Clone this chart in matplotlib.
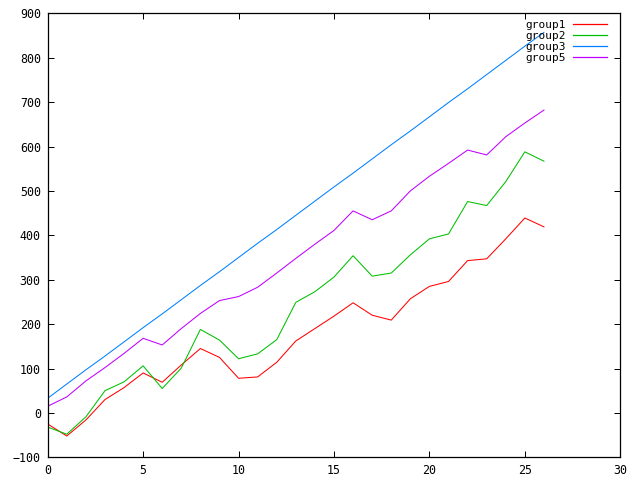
import matplotlib
matplotlib.use("Agg")
import matplotlib.pyplot as plt

x = list(range(27))
group1 = [-25, -52, -16, 30, 57, 90, 69, 108, 145, 125, 78, 81, 114, 162, 190, 218, 248,
          220, 209, 257, 285, 296, 343, 347, 392, 439, 419]
group2 = [-32, -48, -9, 50, 70, 106, 55, 101, 188, 164, 122, 133, 165, 249, 273, 306, 354,
          308, 315, 356, 392, 403, 476, 467, 521, 588, 567]
group3 = [33, 65, 97, 128, 160, 192, 223, 255, 287, 318, 350, 382, 413, 445, 477, 509,
          540, 572, 604, 635, 667, 699, 730, 762, 794, 826, 857]
group5 = [15, 36, 72, 102, 134, 168, 153, 190, 224, 253, 262, 283, 315, 348, 380, 411,
          455, 435, 455, 500, 533, 562, 592, 581, 622, 653, 682]

series = [("group1", group1, "#ff0000"),
          ("group2", group2, "#00c000"),
          ("group3", group3, "#0080ff"),
          ("group5", group5, "#c000ff")]

plt.rcParams["font.family"] = "DejaVu Sans Mono"
plt.rcParams["font.size"] = 8.4

fig = plt.figure(figsize=(6.4, 4.8), dpi=100)
ax = fig.add_axes([47.7 / 640, 22.7 / 480, 572.6 / 640, 444 / 480])

for name, vals, col in series:
    ax.plot(x, vals, color=col, lw=0.75, label=name)

ax.set_xlim(0, 30)
ax.set_ylim(-100, 900)
ax.set_xticks(range(0, 31, 5))
ax.set_yticks(range(-100, 901, 100))
ax.tick_params(direction="in", length=4, width=0.72, top=True, right=True,
               labelsize=8.4, pad=5)
for s in ax.spines.values():
    s.set_linewidth(0.9)

leg = ax.legend(loc="upper right", frameon=False, markerfirst=False,
                handlelength=3.1, handletextpad=0.65, labelspacing=0.1,
                borderaxespad=0.0, fontsize=8, bbox_to_anchor=(0.985, 0.995))
for h in leg.get_lines():
    h.set_linewidth(0.9)

fig.savefig("out.png", dpi=100)
